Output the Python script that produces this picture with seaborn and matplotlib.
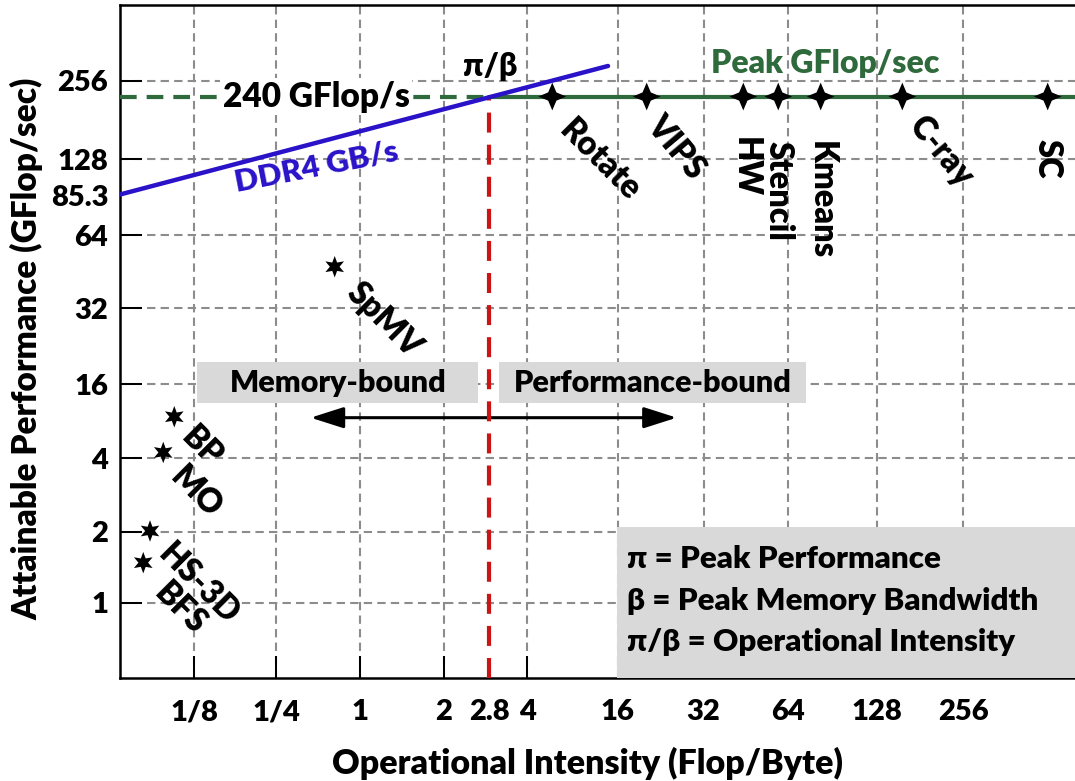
import matplotlib
matplotlib.use("Agg")
import matplotlib.pyplot as plt
from matplotlib.path import Path
from matplotlib.patches import Rectangle
import seaborn as sns

# ---------------- data, in the chart's own (schematic) axis units ----------------
x_tick_labels = ["1/8", "1/4", "1", "2", "2.8", "4", "16", "32", "64", "128", "256"]
x_tick_pos = [0.869, 1.830, 2.807, 3.789, 4.316, 4.764, 5.821, 6.825, 7.809, 8.857, 9.863]
y_tick_labels = ["1", "2", "4", "16", "32", "64", "85.3", "128", "256"]
y_tick_pos = [1.011, 1.970, 2.962, 3.964, 4.989, 5.976, 6.520, 7.003, 8.065]

peak_perf = 7.851          # 240 GFlop/s roof
ridge_oi = 4.316           # pi/beta = 2.8 Flop/Byte
bw_x = [0.0, 5.708]        # DDR4 bandwidth roof
bw_y = [6.527, 8.264]

roof_names = ["Rotate", "VIPS", "HW", "Stencil", "Kmeans", "C-ray", "SC"]
roof_oi = [5.056, 6.160, 7.290, 7.699, 8.195, 9.150, 10.850]

mem_names = ["SpMV", "BP", "MO", "HS-3D", "BFS"]
mem_oi = [2.511, 0.635, 0.506, 0.351, 0.272]
mem_perf = [5.551, 3.524, 3.041, 1.980, 1.552]

legend_lines = ["π = Peak Performance", "β = Peak Memory Bandwidth", "π/β = Operational Intensity"]

# ---------------- style ----------------
sns.set_theme(style="white")
WEIGHT = "heavy"
plt.rcParams["font.family"] = ["Lato", "DejaVu Sans"]
plt.rcParams["font.weight"] = WEIGHT
plt.rcParams["axes.labelweight"] = WEIGHT
plt.rcParams["text.color"] = "black"
plt.rcParams["axes.labelcolor"] = "black"
plt.rcParams["xtick.color"] = "black"
plt.rcParams["ytick.color"] = "black"

GREEN = "#2f6a3c"
BLUE = "#2a12c8"
RED = "#cc1414"
GRID = "#8c8c8c"
BOX = "#d9d9d9"

W, H = 1075, 781
fig = plt.figure(figsize=(W / 100, H / 100), dpi=100)
ax = fig.add_axes([120 / W, (H - 677.5) / H, (W - 120) / W, 672.5 / H])
xmax, ymax = 955 / 85.5, 672.5 / 74
ax.set_xlim(0, xmax)
ax.set_ylim(0, ymax)

# grid (dashed gray) at the labelled levels
grid_kw = dict(color=GRID, lw=1.5, ls=(0, (4, 2.5)), zorder=0.5)
for xp, lab in zip(x_tick_pos, x_tick_labels):
    if lab != "2.8":
        ax.axvline(xp, **grid_kw)
for yp, lab in zip(y_tick_pos, y_tick_labels):
    if lab != "85.3":
        ax.axhline(yp, **grid_kw)

# region boxes and arrow
ax.add_patch(Rectangle((0.904, 3.705), 4.191 - 0.904, 0.554, fc=BOX, ec="none", zorder=1))
ax.add_patch(Rectangle((4.436, 3.705), 8.020 - 4.436, 0.554, fc=BOX, ec="none", zorder=1))
ax.text((0.904 + 4.191) / 2, 3.982, "Memory-bound", ha="center", va="center", fontsize=22, zorder=2)
ax.text((4.436 + 8.020) / 2, 3.982, "Performance-bound", ha="center", va="center", fontsize=22, zorder=2)
ax.annotate("", xy=(2.230, 3.511), xytext=(6.511, 3.511),
            arrowprops=dict(arrowstyle="<|-|>,head_length=1.44,head_width=0.46",
                            color="black", lw=2.2, shrinkA=0, shrinkB=0, mutation_scale=14),
            zorder=2.5)

# roofline
ax.plot([0, ridge_oi], [peak_perf, peak_perf], color=GREEN, lw=3, ls=(0, (4, 2.4)), zorder=3)
sns.lineplot(x=[ridge_oi, xmax], y=[peak_perf, peak_perf], color=GREEN, lw=3, ax=ax, zorder=3)
sns.lineplot(x=bw_x, y=bw_y, color=BLUE, lw=3.2, ax=ax, zorder=4)
ax.plot([ridge_oi, ridge_oi], [0, peak_perf], color=RED, lw=3, ls=(0, (4.8, 2.9)), zorder=3)

# benchmark markers
star4 = Path.unit_regular_star(4, 0.42)
star6 = Path.unit_regular_star(6, 0.45)
sns.scatterplot(x=roof_oi, y=[peak_perf] * len(roof_oi), marker=star4, s=400,
                color="black", edgecolor="none", linewidth=0, ax=ax, zorder=5)
sns.scatterplot(x=mem_oi, y=mem_perf, marker=star6, s=240,
                color="black", edgecolor="none", linewidth=0, ax=ax, zorder=5)

# benchmark labels (offset in pixels, rotation)
roof_style = {"Rotate": (48, -63.5, -45), "VIPS": (30, -51, -50), "HW": (2, -70, -90),
              "Stencil": (0, -94, -90), "Kmeans": (1, -104, -90), "C-ray": (39, -55, -50),
              "SC": (0, -62, -90)}
for name, xo in zip(roof_names, roof_oi):
    dx, dy, rot = roof_style[name]
    ax.annotate(name, (xo, peak_perf), xytext=(dx, dy), textcoords="offset pixels",
                ha="center", va="center", rotation=rot, rotation_mode="anchor",
                fontsize=23.5, zorder=6)
mem_style = {"SpMV": (49, -53, -45), "BP": (28, -30, -45), "MO": (33, -40, -45),
             "HS-3D": (49, -53, -45), "BFS": (37, -46, -45)}
for name, xo, yo in zip(mem_names, mem_oi, mem_perf):
    dx, dy, rot = mem_style[name]
    ax.annotate(name, (xo, yo), xytext=(dx, dy), textcoords="offset pixels",
                ha="center", va="center", rotation=rot, rotation_mode="anchor",
                fontsize=23.5, zorder=6)

# roof annotations
ax.text(2.292, peak_perf, "240 GFlop/s", ha="center", va="center", fontsize=24, zorder=3.5,
        bbox=dict(fc="white", ec="none", pad=2))
ax.annotate("π/β", (ridge_oi, peak_perf), xytext=(1, 30), textcoords="offset pixels",
            ha="center", va="center", fontsize=23, zorder=6)
ax.annotate("Peak GFlop/sec", (8.246, peak_perf), xytext=(0, 33.5), textcoords="offset pixels",
            ha="center", va="center", fontsize=23, color=GREEN, zorder=6)
ax.text(2.304, 6.899, "DDR4 GB/s", ha="center", va="center", rotation=11,
        rotation_mode="anchor", fontsize=22.5, color=BLUE, zorder=6)

# definition box
ax.add_patch(Rectangle((0.5207, 0), 1 - 0.5207, 0.2233, transform=ax.transAxes,
                       fc=BOX, ec="none", zorder=3, clip_on=False))
for i, line in enumerate(legend_lines):
    ax.text(0.5306, 0.1628 - i * 0.062, line, transform=ax.transAxes, ha="left",
            va="baseline", fontsize=22.5, zorder=4)

# axes, ticks, labels
ax.set_xticks(x_tick_pos)
ax.set_xticklabels(x_tick_labels)
ax.set_yticks(y_tick_pos)
ax.set_yticklabels(y_tick_labels)
ax.tick_params(axis="both", which="major", direction="in", length=15.8, width=1.45,
               color="black", labelcolor="black", labelsize=21,
               bottom=True, left=True, top=False, right=False)
ax.tick_params(axis="x", pad=15.5)
ax.tick_params(axis="y", pad=8.5)
for t, lab in zip(ax.xaxis.get_major_ticks(), x_tick_labels):
    if lab == "2.8":
        t.tick1line.set_visible(False)
for t, lab in zip(ax.yaxis.get_major_ticks(), y_tick_labels):
    if lab == "85.3":
        t.tick1line.set_visible(False)
for lbl in ax.get_xticklabels() + ax.get_yticklabels():
    lbl.set_fontweight(WEIGHT)

for side in ["left", "bottom", "top"]:
    ax.spines[side].set_color("black")
    ax.spines[side].set_linewidth(1.8)
ax.spines["right"].set_visible(False)

ax.set_xlabel("Operational Intensity (Flop/Byte)", fontsize=24.5, fontweight=WEIGHT, va="center")
ax.xaxis.set_label_coords(0.4895, -0.1271)
ax.set_ylabel("Attainable Performance (GFlop/sec)", fontsize=24, fontweight=WEIGHT, va="center")
ax.yaxis.set_label_coords(-0.0974, 0.4885)

fig.savefig("out.png", dpi=100)
